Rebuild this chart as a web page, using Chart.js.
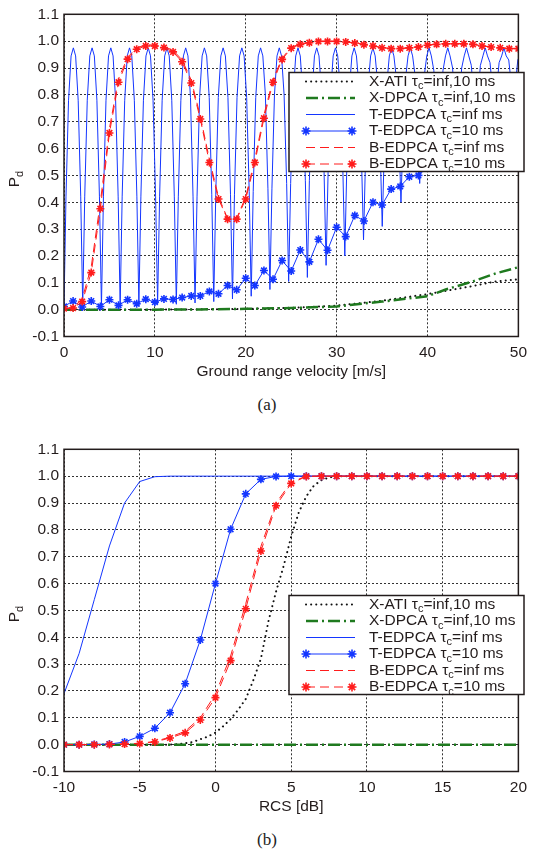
<!DOCTYPE html>
<html>
<head>
<meta charset="utf-8">
<script src="https://cdn.jsdelivr.net/npm/chart.js@4.4.1/dist/chart.umd.min.js"></script>
<style>
body{margin:0;background:#fff;width:534px;height:857px;position:relative;overflow:hidden}
canvas{position:absolute;left:0}
#ca{top:0}
#cb{top:435px}
.cap{position:absolute;left:0;width:534px;text-align:center;font:17px "Liberation Serif",serif;color:#222;line-height:22px}
</style>
</head>
<body>
<canvas id="ca" width="534" height="381"></canvas>
<div class="cap" style="top:394px">(a)</div>
<canvas id="cb" width="534" height="381"></canvas>
<div class="cap" style="top:829px">(b)</div>
<script>
// series names (τ_c -> tau with subscript c)
const names = ['X-ATI τ_c=inf,10 ms', 'X-DPCA τ_c=inf,10 ms', 'T-EDPCA τ_c=inf ms',
  'T-EDPCA τ_c=10 ms', 'B-EDPCA τ_c=inf ms', 'B-EDPCA τ_c=10 ms']
const pdTicks = [-0.1, 0, 0.1, 0.2, 0.3, 0.4, 0.5, 0.6, 0.7, 0.8, 0.9, 1.0, 1.1]
const velTicks = [0, 10, 20, 30, 40, 50]
const rcsTicks = [-10, -5, 0, 5, 10, 15, 20]

// ---- (a) ground range velocity ----
const velInt = [0,1,2,3,4,5,6,7,8,9,10,11,12,13,14,15,16,17,18,19,20,21,22,23,24,25,
  26,27,28,29,30,31,32,33,34,35,36,37,38,39,40,41,42,43,44,45,46,47,48,49,50]
const velX = [0, 5, 10, 15, 20, 25, 30, 35, 40, 42, 45, 47.5, 50]
const xatiVel = [0, 0, 0, 0.001, 0.003, 0.007, 0.015, 0.033, 0.058, 0.07, 0.088, 0.105, 0.113]
const xdpcaVel = [0, 0, 0, 0.001, 0.003, 0.006, 0.012, 0.03, 0.05, 0.075, 0.105, 0.135, 0.158]

const tInfVelX = [
  0,.22,.5,.78,1.03,1.28,1.56,1.84,
  2.06,2.28,2.56,2.84,3.09,3.34,3.62,3.9,
  4.12,4.34,4.62,4.9,5.15,5.4,5.68,5.96,
  6.18,6.4,6.68,6.96,7.21,7.46,7.74,8.02,
  8.24,8.46,8.74,9.02,9.27,9.52,9.8,10.08,
  10.3,10.52,10.8,11.08,11.33,11.58,11.86,12.14,
  12.36,12.58,12.86,13.14,13.39,13.64,13.92,14.2,
  14.42,14.64,14.92,15.2,15.45,15.7,15.98,16.26,
  16.48,16.7,16.98,17.26,17.51,17.76,18.04,18.32,
  18.54,18.76,19.04,19.32,19.57,19.82,20.1,20.38,
  20.6,20.82,21.1,21.38,21.63,21.88,22.16,22.44,
  22.66,22.88,23.16,23.44,23.69,23.94,24.22,24.5,
  24.72,24.94,25.22,25.5,25.75,26,26.28,26.56,
  26.78,27,27.28,27.56,27.81,28.06,28.34,28.62,
  28.84,29.06,29.34,29.62,29.87,30.12,30.4,30.68,
  30.9,31.12,31.4,31.68,31.93,32.18,32.46,32.74,
  32.96,33.18,33.46,33.74,33.99,34.24,34.52,34.8,
  35.02,35.24,35.52,35.8,36.05,36.3,36.58,36.86,
  37.08,37.3,37.58,37.86,38.11,38.36,38.64,38.92,
  39.14,39.36,39.64,39.92,40.17,40.42,40.7,40.98,
  41.2,41.42,41.7,41.98,42.23,42.48,42.76,43.04,
  43.26,43.48,43.76,44.04,44.29,44.54,44.82,45.1,
  45.32,45.54,45.82,46.1,46.35,46.6,46.88,47.16,
  47.38,47.6,47.88,48.16,48.41,48.66,48.94,49.22,
  49.44,49.66,49.94,50]
const tInfVel = [
  .01,.42,.78,.945,.975,.945,.78,.42,
  .01,.42,.78,.945,.975,.945,.78,.42,
  .01,.42,.78,.945,.975,.945,.78,.42,
  .01,.42,.78,.945,.975,.945,.78,.42,
  .015,.42,.78,.945,.975,.945,.78,.42,
  .02,.42,.78,.945,.975,.945,.78,.42,
  .02,.42,.78,.945,.975,.945,.79,.42,
  .025,.42,.79,.945,.975,.945,.79,.43,
  .03,.43,.79,.945,.975,.945,.79,.43,
  .04,.43,.79,.945,.975,.945,.79,.44,
  .05,.44,.79,.945,.975,.945,.80,.45,
  .075,.45,.80,.945,.975,.945,.80,.47,
  .105,.47,.80,.945,.975,.945,.80,.48,
  .12,.48,.80,.945,.975,.945,.81,.51,
  .165,.51,.81,.945,.975,.945,.82,.53,
  .2,.53,.82,.945,.975,.945,.83,.56,
  .26,.56,.83,.945,.975,.945,.84,.59,
  .31,.59,.84,.945,.975,.945,.86,.64,
  .4,.64,.86,.945,.975,.945,.87,.68,
  .47,.68,.87,.945,.975,.945,.89,.73,
  .55,.73,.89,.945,.975,.945,.90,.76,
  .6,.76,.90,.945,.975,.945,.91,.79,
  .65,.79,.91,.945,.975,.945,.92,.82,
  .7,.82,.92,.945,.975,.945,.93,.84,
  .74,.84,.93,.935]
const t10Vel = [0.012,0.032,0.01,0.032,0.012,0.037,0.016,0.037,0.022,0.039,0.028,0.04,0.038,0.045,
  0.051,0.051,0.068,0.059,0.09,0.074,0.117,0.09,0.146,0.113,0.183,0.144,0.222,0.178,0.262,0.221,
  0.307,0.272,0.351,0.33,0.4,0.39,0.449,0.459,0.495,0.5,0.53,0.55,0.57,0.6,0.62,0.64,0.66,0.68,
  0.7,0.72,0.74]
const bInfVel = [0.004,0.008,0.04,0.16,0.4,0.675,0.86,0.94,0.975,0.986,0.986,0.98,0.966,0.93,0.855,
  0.72,0.56,0.42,0.34,0.34,0.42,0.56,0.725,0.857,0.937,0.977,0.99,0.996,1,1,1,0.998,0.994,0.988,
  0.983,0.976,0.973,0.973,0.976,0.979,0.986,0.989,0.991,0.991,0.991,0.989,0.983,0.979,0.976,0.973,0.973]
const b10Vel = [0.004,0.006,0.03,0.138,0.376,0.658,0.847,0.933,0.97,0.982,0.982,0.976,0.96,0.923,0.844,
  0.71,0.548,0.412,0.337,0.337,0.412,0.548,0.713,0.847,0.932,0.974,0.988,0.994,0.999,0.999,0.999,0.997,
  0.993,0.987,0.982,0.975,0.972,0.972,0.975,0.978,0.985,0.988,0.99,0.99,0.99,0.988,0.982,0.978,0.975,
  0.972,0.972]

// ---- (b) RCS ----
const rcsInt = [-10,-9,-8,-7,-6,-5,-4,-3,-2,-1,0,1,2,3,4,5,6,7,8,9,10,11,12,13,14,15,16,17,18,19,20]
const rcsEnds = [-10, 20]
const xdpcaRcs = [0, 0]
const xatiRcsX = [-10,-5,-3,-2.5,-2,-1.5,-1,-0.5,0,0.5,1,1.5,2,2.5,3,3.5,4,4.5,5,5.5,6,6.5,7,7.5,8,10,15,20]
const xatiRcs = [0,0,0,0.002,0.005,0.01,0.02,0.03,0.045,0.068,0.095,0.13,0.17,0.24,0.32,0.46,0.57,
  0.665,0.775,0.865,0.925,0.965,0.985,0.995,1,1,1,1]
const tInfRcs = [0.19,0.34,0.54,0.74,0.9,0.98,0.998,1,1,1,1,1,1,1,1,1,1,1,1,1,1,1,1,1,1,1,1,1,1,1,1]
const t10Rcs = [0,0,0.001,0.002,0.01,0.031,0.061,0.119,0.227,0.39,0.6,0.802,0.934,0.988,0.999,
  1,1,1,1,1,1,1,1,1,1,1,1,1,1,1,1]
const bInfRcs = [0,0,0,0.001,0.002,0.005,0.012,0.028,0.05,0.1,0.188,0.33,0.525,0.738,0.9,0.978,1,
  1,1,1,1,1,1,1,1,1,1,1,1,1,1]
const b10Rcs = [0,0,0,0.001,0.002,0.004,0.01,0.025,0.044,0.092,0.175,0.313,0.506,0.721,0.89,0.973,0.999,
  1,1,1,1,1,1,1,1,1,1,1,1,1,1]

const FONT = '"Liberation Sans", Arial, sans-serif'
const FS = 15.5
const INK = '#231c1c'
const BLUE = '#1436ff'
const RED = '#ff1c1c'
const GREEN = '#1f7a1f'

const styles = [
  {borderColor: '#111', borderWidth: 2, borderDash: [0.1, 5], borderCapStyle: 'round'},
  {borderColor: GREEN, borderWidth: 2.5, borderDash: [12, 4, 2, 4]},
  {borderColor: BLUE, borderWidth: 1},
  {borderColor: BLUE, borderWidth: 1, star: true},
  {borderColor: RED, borderWidth: 1, borderDash: [9, 5]},
  {borderColor: RED, borderWidth: 1, borderDash: [9, 5], star: true}
]

function serie(i, xs, ys) {
  const s = styles[i]
  return {
    label: names[i],
    data: xs.map((x, k) => ({x: x, y: ys[k]})),
    borderColor: s.borderColor,
    borderWidth: s.borderWidth,
    borderDash: s.borderDash || [],
    borderCapStyle: s.borderCapStyle || 'butt',
    pointStyle: 'star',
    pointRadius: s.star ? 4 : 0,
    pointBorderWidth: 1.6,
    pointBorderColor: s.borderColor,
    pointBackgroundColor: s.borderColor,
    tension: 0,
    fill: false,
    order: 6 - i
  }
}

function star(ctx, x, y, r) {
  ctx.beginPath()
  for (let a = 0; a < 4; a++) {
    const t = a * Math.PI / 4
    ctx.moveTo(x - r * Math.cos(t), y - r * Math.sin(t))
    ctx.lineTo(x + r * Math.cos(t), y + r * Math.sin(t))
  }
  ctx.stroke()
}

function subText(ctx, txt, x, y) {
  // text with "_c" style subscript
  const parts = txt.split('_')
  ctx.font = FS + 'px ' + FONT
  ctx.fillText(parts[0], x, y)
  x += ctx.measureText(parts[0]).width
  if (parts[1]) {
    ctx.font = '11px ' + FONT
    ctx.fillText(parts[1][0], x, y + 4.5)
    x += ctx.measureText(parts[1][0]).width
    ctx.font = FS + 'px ' + FONT
    ctx.fillText(parts[1].slice(1), x, y)
  }
}

const frame = {
  id: 'frame',
  afterDatasetsDraw(chart, args, opts) {
    const ctx = chart.ctx
    const a = chart.chartArea
    ctx.save()
    ctx.strokeStyle = INK
    ctx.lineWidth = 1.5
    ctx.setLineDash([])
    ctx.strokeRect(a.left, a.top, a.right - a.left, a.bottom - a.top)

    // y axis title P_d
    ctx.save()
    ctx.translate(15, 179)
    ctx.rotate(-Math.PI / 2)
    ctx.fillStyle = INK
    ctx.textBaseline = 'middle'
    ctx.font = FS + 'px ' + FONT
    const w1 = ctx.measureText('P').width
    ctx.font = '11px ' + FONT
    const w2 = ctx.measureText('d').width
    ctx.font = FS + 'px ' + FONT
    ctx.fillText('P', -(w1 + w2) / 2, 0)
    ctx.font = '11px ' + FONT
    ctx.fillText('d', -(w1 + w2) / 2 + w1, 4.5)
    ctx.restore()

    // legend box
    const L = opts.box
    ctx.fillStyle = '#fff'
    ctx.fillRect(L.x, L.y, L.w, L.h)
    ctx.strokeStyle = INK
    ctx.lineWidth = 1.5
    ctx.strokeRect(L.x, L.y, L.w, L.h)
    chart.data.datasets.forEach((d, i) => {
      const s = styles[i]
      const cy = L.y + 9 + 16.5 * i
      ctx.strokeStyle = s.borderColor
      ctx.lineWidth = s.borderWidth
      ctx.lineCap = s.borderCapStyle || 'butt'
      ctx.setLineDash(s.borderDash || [])
      ctx.beginPath()
      ctx.moveTo(L.x + 17, cy)
      ctx.lineTo(L.x + 66, cy)
      ctx.stroke()
      ctx.setLineDash([])
      ctx.lineCap = 'butt'
      if (s.star) {
        ctx.lineWidth = 1.6
        star(ctx, L.x + 17, cy, 4.5)
        star(ctx, L.x + 63, cy, 4.5)
      }
      ctx.fillStyle = INK
      ctx.textBaseline = 'middle'
      subText(ctx, d.label, L.x + 80, cy)
    })
    ctx.restore()
  }
}

function makeChart(id, datasets, xMin, xMax, xTicks, xTitle, box) {
  return new Chart(document.getElementById(id), {
    type: 'line',
    data: {datasets: datasets},
    plugins: [frame],
    options: {
      responsive: false,
      animation: false,
      devicePixelRatio: 1,
      layout: {padding: {left: 0, right: 10, top: 8, bottom: 0}},
      plugins: {legend: {display: false}, tooltip: {enabled: false}, frame: {box: box}},
      scales: {
        x: {
          type: 'linear', min: xMin, max: xMax,
          afterBuildTicks: sc => { sc.ticks = xTicks.map(v => ({value: v})) },
          afterFit: sc => { sc.height = 44.5 },
          grid: {color: '#333', lineWidth: 1, drawTicks: false},
          border: {display: false, dash: [2, 2]},
          ticks: {padding: 7, color: INK, font: {family: FONT, size: FS}, maxRotation: 0},
          title: {display: true, text: xTitle, color: INK, font: {family: FONT, size: FS}, padding: 0}
        },
        y: {
          type: 'linear', min: -0.1, max: 1.1,
          afterBuildTicks: sc => { sc.ticks = pdTicks.map(v => ({value: v})) },
          afterFit: sc => { sc.width = 64 },
          grid: {color: '#333', lineWidth: 1, drawTicks: false},
          border: {display: false, dash: [2, 2]},
          ticks: {padding: 5, color: INK, font: {family: FONT, size: FS}, callback: v => v.toFixed(1)}
        }
      }
    }
  })
}

makeChart('ca', [
  serie(0, velX, xatiVel),
  serie(1, velX, xdpcaVel),
  serie(2, tInfVelX, tInfVel),
  serie(3, velInt, t10Vel),
  serie(4, velInt, bInfVel),
  serie(5, velInt, b10Vel)
], 0, 50, velTicks, 'Ground range velocity [m/s]', {x: 289, y: 72.5, w: 235, h: 99})

makeChart('cb', [
  serie(0, xatiRcsX, xatiRcs),
  serie(1, rcsEnds, xdpcaRcs),
  serie(2, rcsInt, tInfRcs),
  serie(3, rcsInt, t10Rcs),
  serie(4, rcsInt, bInfRcs),
  serie(5, rcsInt, b10Rcs)
], -10, 20, rcsTicks, 'RCS [dB]', {x: 289, y: 160.5, w: 235, h: 99})
</script>
</body>
</html>
